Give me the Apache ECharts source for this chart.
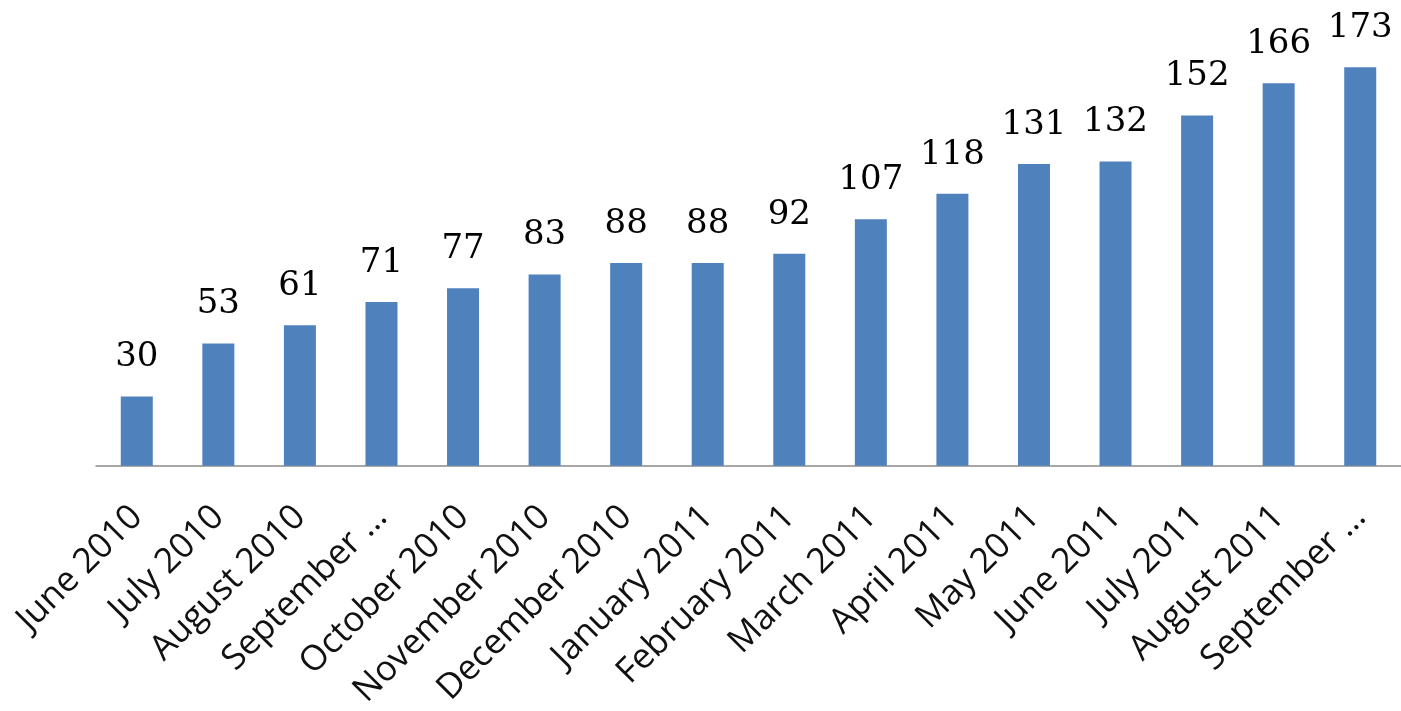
<!DOCTYPE html>
<html>
<head>
<meta charset="utf-8">
<script src="https://cdn.jsdelivr.net/npm/echarts@6/dist/echarts.min.js"></script>
<style>
html,body{margin:0;padding:0;background:#fff;}
#chart{width:1401px;height:711px;}
</style>
</head>
<body>
<div id="chart"></div>
<script>
const categories = ["June 2010","July 2010","August 2010","September \u2026","October 2010","November 2010","December 2010","January 2011","February 2011","March 2011","April 2011","May 2011","June 2011","July 2011","August 2011","September \u2026"];
const values = [30,53,61,71,77,83,88,88,92,107,118,131,132,152,166,173];

const chart = echarts.init(document.getElementById('chart'));
chart.setOption({
  animation: false,
  backgroundColor: '#ffffff',
  grid: { left: 96, width: 1316, top: 5, bottom: 245, containLabel: false },
  xAxis: {
    type: 'category',
    data: categories,
    axisLine: { show: true, lineStyle: { color: '#8a8a8a', width: 1.5 } },
    axisTick: { show: false },
    axisLabel: {
      interval: 0,
      rotate: 45,
      margin: 46,
      fontFamily: 'Open Sans',
      fontSize: 35,
      color: '#111111'
    }
  },
  yAxis: {
    type: 'value',
    min: 0,
    max: 200,
    show: false,
    splitLine: { show: false }
  },
  series: [{
    type: 'bar',
    data: values,
    barWidth: 32,
    itemStyle: { color: '#4F81BD' },
    label: {
      show: true,
      position: 'top',
      distance: 22,
      fontFamily: 'DejaVu Serif',
      fontSize: 34,
      color: '#000000'
    }
  }]
});
</script>
</body>
</html>
